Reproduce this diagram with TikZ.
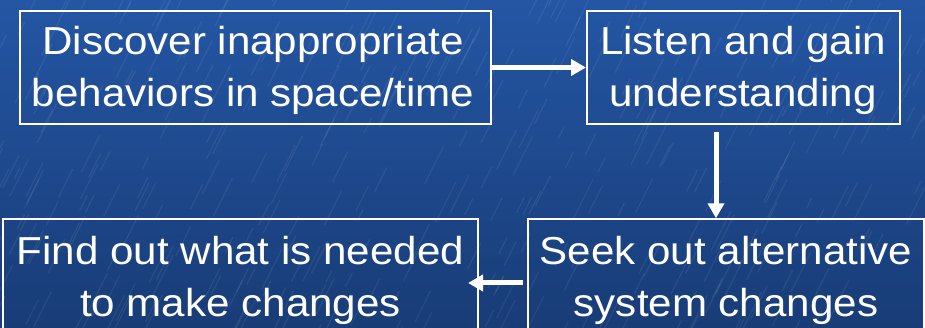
\documentclass[tikz,border=0pt]{standalone}
\usepackage{fontspec}
\setmainfont[FakeStretch=1.08]{Liberation Sans}
\usetikzlibrary{arrows.meta}
\definecolor{bgtop}{RGB}{36,86,164}
\definecolor{bgbot}{RGB}{24,60,118}
\tikzset{
  box/.style={draw=white, line width=2pt, inner sep=0pt},
  txt/.style={text=white, anchor=base, inner sep=0pt, font=\fontsize{39}{52}\selectfont},
  conn/.style={white, line width=5pt, -{Triangle[length=15pt,width=16pt]}},
  streak/.style={white, opacity=0.07, line width=1.2pt},
}
\newcommand\twolines[2]{\vtop{\baselineskip=52pt\halign{\hfil##\hfil\cr #1\cr #2\cr}}}
\begin{document}
\begin{tikzpicture}[x=1pt,y=-1pt]
\useasboundingbox (0,0) rectangle (925,328);
\clip (0,0) rectangle (925,328);
\shade[top color=bgtop,bottom color=bgbot] (0,0) rectangle (925,328);
\pgfmathsetseed{12}
\foreach \i in {1,...,400}{
  \pgfmathsetmacro\xa{rnd*960-20}
  \pgfmathsetmacro\ya{rnd*360-10}
  \pgfmathsetmacro\len{10+rnd*30}
  \draw[streak] (\xa,\ya) -- ++(0.5*\len,-\len);
}
% boxes
\node[box, minimum width=471pt, minimum height=113pt] (b1) at (255.5,67.5) {};
\node[box, minimum width=313pt, minimum height=113pt] (b2) at (743.5,67.5) {};
\node[box, minimum width=475pt, minimum height=114pt] (b3) at (240.7,276.3) {};
\node[box, minimum width=396pt, minimum height=114pt] (b4) at (726,276.3) {};
% texts
\node[txt] (t1) at (253,54.3) {\twolines{Discover inappropriate}{behaviors in space/time}};
\node[txt] (t2) at (743,54.3) {\twolines{Listen and gain}{understanding}};
\node[txt] (t3) at (240.5,264.3) {\twolines{Find out what is needed}{to make changes}};
\node[txt] (t4) at (726,264.3) {\twolines{Seek out alternative}{system changes}};
% connectors
\coordinate (d1) at (716,132);
\coordinate (c1) at (523,283);
\coordinate (c2) at (468,283);
\draw[conn] (b1.east) -- (b2.west);
\draw[conn] (d1) -- (d1 |- b4.north);
\draw[conn] (c1) -- (c2);
\end{tikzpicture}
\end{document}
